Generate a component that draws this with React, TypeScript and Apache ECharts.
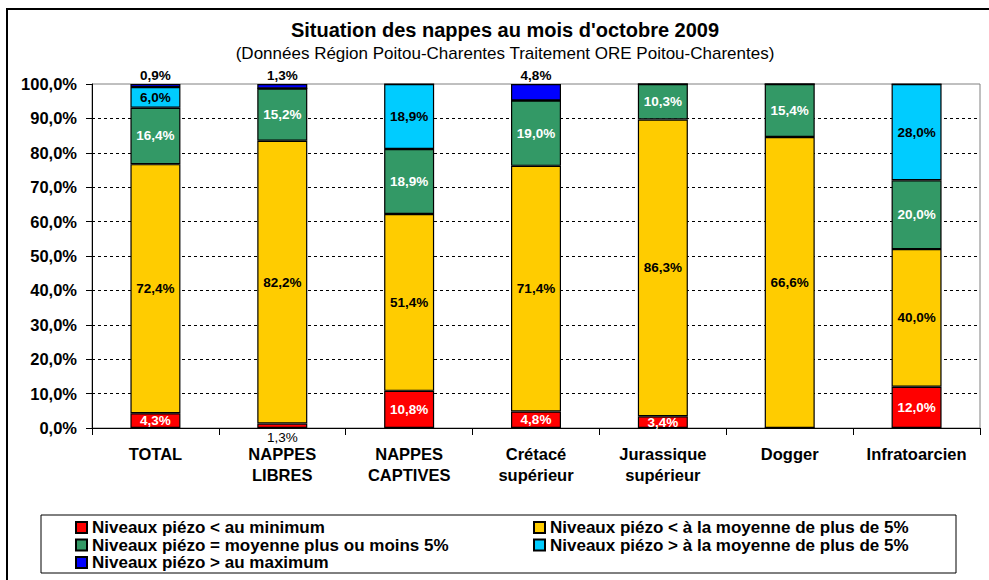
import React, { useEffect, useRef } from "react";
import * as echarts from "echarts";

const categories = ["TOTAL", "NAPPES\nLIBRES", "NAPPES\nCAPTIVES", "Crétacé\nsupérieur", "Jurassique\nsupérieur", "Dogger", "Infratoarcien"];
const seriesNames = [
  "Niveaux piézo < au minimum",
  "Niveaux piézo < à la moyenne de plus de 5%",
  "Niveaux piézo = moyenne plus ou moins 5%",
  "Niveaux piézo > à la moyenne de plus de 5%",
  "Niveaux piézo > au maximum",
];
const belowMin = [4.3, 1.3, 10.8, 4.8, 3.4, 0, 12.0];
const belowAvg = [72.4, 82.2, 51.4, 71.4, 86.3, 84.6, 40.0];
// values printed on the yellow bars in the reference (Dogger is printed as 66,6%)
const belowAvgPrinted = [72.4, 82.2, 51.4, 71.4, 86.3, 66.6, 40.0];
const nearAvg = [16.4, 15.2, 18.9, 19.0, 10.3, 15.4, 20.0];
const aboveAvg = [6.0, 0, 18.9, 0, 0, 0, 28.0];
const aboveMax = [0.9, 1.3, 0, 4.8, 0, 0, 0];
const yTicks = [0, 10, 20, 30, 40, 50, 60, 70, 80, 90, 100];

const colors = ["#FF0000", "#FFCC00", "#339966", "#00CCFF", "#0000FF"];
const FONT = "'Liberation Sans', Arial, sans-serif";

const fmt = (v: number) => v.toFixed(1).replace(".", ",") + "%";

export default function App() {
  const ref = useRef<HTMLDivElement>(null);
  useEffect(() => {
    if (!ref.current) return;
    const chart = echarts.init(ref.current, null, { renderer: "svg" });
    const labelBase = { show: true, fontFamily: FONT, fontWeight: "bold" as const, fontSize: 13.5 };
    const mk = (i: number, values: number[], label: any, printed?: number[]) => ({
      name: seriesNames[i],
      type: "bar",
      stack: "s",
      barWidth: 50,
      itemStyle: { color: colors[i], borderColor: "#000", borderWidth: 1.2 },
      data: values.map((v) => ({ value: v })),
      label: {
        ...labelBase,
        ...label,
        formatter: (p: any) => (p.value ? fmt(printed ? printed[p.dataIndex] : p.value) : ""),
      },
    });
    const redSeries: any = mk(0, belowMin, { position: "inside", color: "#fff" });
    redSeries.data = belowMin.map((v) =>
      v > 0 && v < 2
        ? { value: v, label: { position: "bottom", color: "#000", fontWeight: "normal", distance: 2 } }
        : { value: v }
    );
    const legendText = { fontFamily: FONT, fontWeight: "bold", fontSize: 17, color: "#000" };
    const option: any = {
      animation: false,
      backgroundColor: "#fff",
      textStyle: { fontFamily: FONT },
      grid: { left: 92, top: 84, right: 9, bottom: 152, show: true, borderColor: "#808080", borderWidth: 1 },
      xAxis: {
        type: "category",
        data: categories,
        axisLine: { lineStyle: { color: "#000", width: 1 } },
        axisTick: { show: true, length: 7, lineStyle: { color: "#000" } },
        axisLabel: { fontFamily: FONT, fontWeight: "bold", fontSize: 16.5, color: "#000", lineHeight: 21, margin: 15, interval: 0 },
      },
      yAxis: {
        type: "value",
        min: yTicks[0],
        max: yTicks[yTicks.length - 1],
        interval: 10,
        axisLine: { show: true, lineStyle: { color: "#000", width: 1 } },
        axisTick: { show: true, length: 6, lineStyle: { color: "#000" } },
        axisLabel: { fontFamily: FONT, fontWeight: "bold", fontSize: 16.5, color: "#000", margin: 15, formatter: (v: number) => fmt(v) },
        splitLine: { show: true, showMinLine: false, showMaxLine: false, lineStyle: { color: "#000", type: [3, 3], width: 1 } },
      },
      legend: [
        {
          data: [seriesNames[0], seriesNames[2], seriesNames[4]],
          orient: "vertical",
          left: 75,
          top: 519,
          padding: 0,
          itemGap: 0.5,
          itemWidth: 11,
          itemHeight: 11,
          icon: "rect",
          selectedMode: false,
          textStyle: legendText,
        },
        {
          data: [seriesNames[1], seriesNames[3]],
          orient: "vertical",
          left: 533,
          top: 519,
          padding: 0,
          itemGap: 0.5,
          itemWidth: 11,
          itemHeight: 11,
          icon: "rect",
          selectedMode: false,
          textStyle: legendText,
        },
      ],
      graphic: [
        { type: "rect", shape: { x: 7, y: 9, width: 1000, height: 600 }, style: { fill: "none", stroke: "#000", lineWidth: 2 }, silent: true },
        { type: "rect", shape: { x: 41, y: 515, width: 915, height: 58 }, style: { fill: "none", stroke: "#000", lineWidth: 1 }, silent: true },
        {
          type: "text",
          x: 505,
          y: 30,
          style: { text: "Situation des nappes au mois d'octobre 2009", font: `bold 20px ${FONT}`, fill: "#000", textAlign: "center", textVerticalAlign: "middle" },
        },
        {
          type: "text",
          x: 505,
          y: 53,
          style: { text: "(Données Région Poitou-Charentes Traitement ORE Poitou-Charentes)", font: `17px ${FONT}`, fill: "#000", textAlign: "center", textVerticalAlign: "middle" },
        },
      ],
      series: [
        redSeries,
        mk(1, belowAvg, { position: "inside", color: "#000" }, belowAvgPrinted),
        mk(2, nearAvg, { position: "inside", color: "#fff" }),
        mk(3, aboveAvg, { position: "inside", color: "#000" }),
        mk(4, aboveMax, { position: "top", color: "#000", distance: 2 }),
      ],
    };
    chart.setOption(option);
    return () => chart.dispose();
  }, []);
  return <div ref={ref} style={{ position: "absolute", left: 0, top: 0, width: 989, height: 580 }} />;
}
